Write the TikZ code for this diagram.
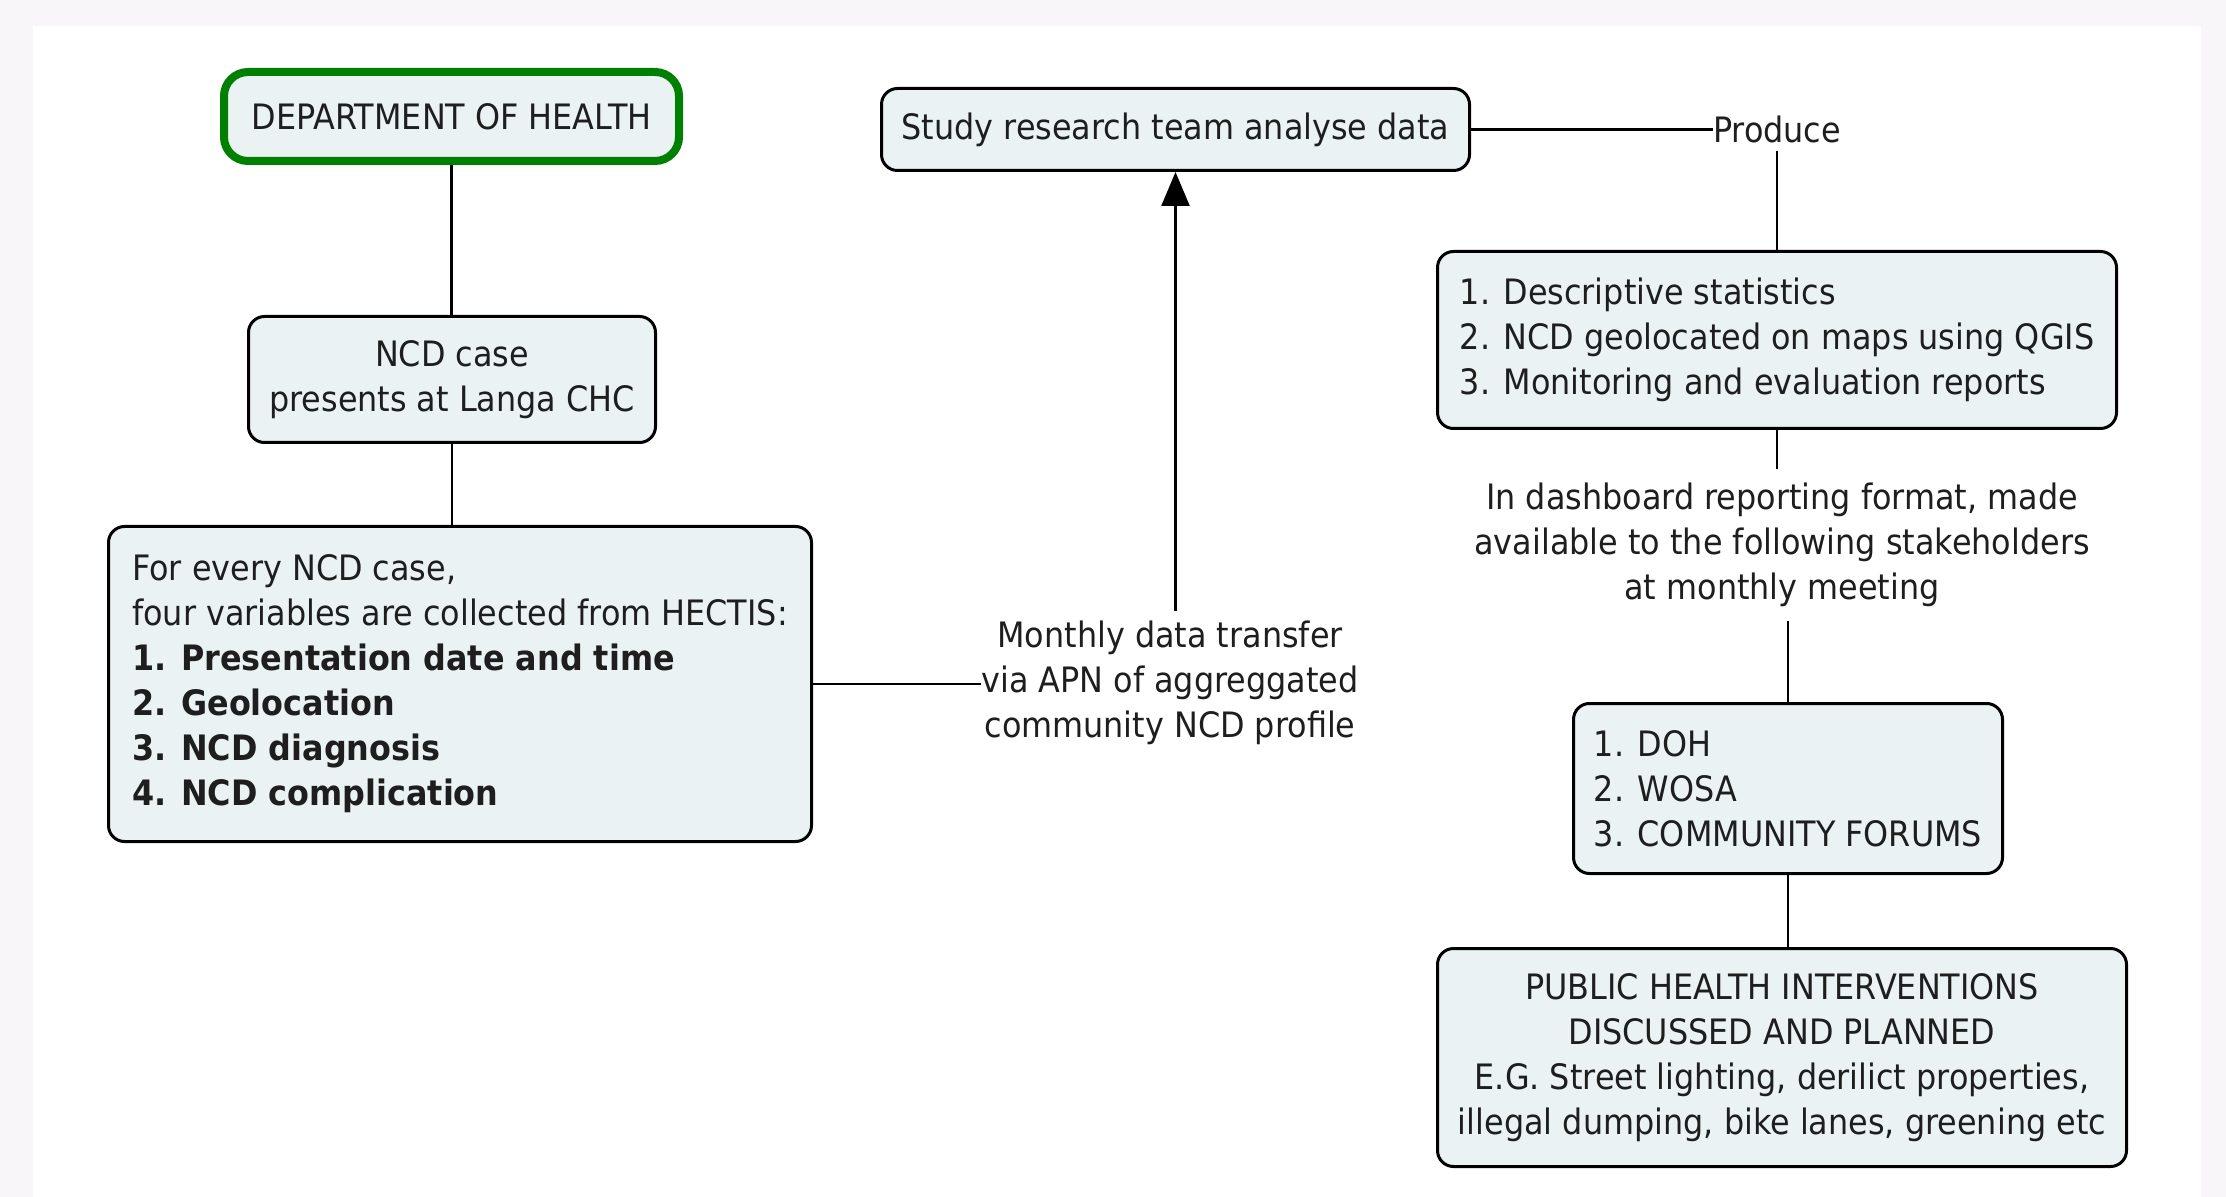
\documentclass[tikz,border=0pt]{standalone}
\usepackage{fontspec}
\setmainfont{DejaVu Sans}[FakeStretch=0.91]
\usetikzlibrary{arrows.meta}
\definecolor{boxfill}{HTML}{EAF2F4}
\definecolor{pagebg}{HTML}{F9F6FA}
\definecolor{dohgreen}{HTML}{008000}
\definecolor{txt}{HTML}{1E1E1E}
\begin{document}
\begin{tikzpicture}[x=0.5pt,y=-0.5pt,
  every node/.style={font=\fontsize{17.5}{22.5}\selectfont, text=txt},
  box/.style={draw=black, line width=1.5pt, fill=boxfill, rounded corners=8pt, inner sep=0pt},
  dohbox/.style={draw=dohgreen, line width=4pt, fill=boxfill, rounded corners=12pt, inner sep=0pt},
  conn/.style={line width=1.2pt, draw=black},
  lbl/.style={inner xsep=0pt, inner ysep=5pt, align=center}]
\fill[pagebg] (0,0) rectangle (2226,1197);
\fill[white] (33,26) rectangle (2201,1197);
\useasboundingbox (0,0) rectangle (2226,1197);

\node[dohbox, minimum width=227.5pt, minimum height=44.5pt] (doh) at (451.5,116.5) {DEPARTMENT OF HEALTH};
\node[box, minimum width=203.5pt, minimum height=63pt, align=center] (ncd) at (452,379.5) {NCD case\\presents at Langa CHC};
\node[box, minimum width=351.5pt, minimum height=157.5pt, align=left] (hectis) at (460,684) {For every NCD case,\\four variables are collected from HECTIS:\\\textbf{1. Presentation date and time}\\\textbf{2. Geolocation}\\\textbf{3. NCD diagnosis}\\\textbf{4. NCD complication}};
\node[box, minimum width=294pt, minimum height=41pt] (study) at (1175.5,129.5) {Study research team analyse data};
\node[box, minimum width=339.5pt, minimum height=88.5pt, align=left] (desc) at (1777,340) {1. Descriptive statistics\\2. NCD geolocated on maps using QGIS\\3. Monitoring and evaluation reports};
\node[box, minimum width=214.5pt, minimum height=85pt, align=left] (stake) at (1788,788.5) {1. DOH\\2. WOSA\\3. COMMUNITY FORUMS};
\node[box, minimum width=344.5pt, minimum height=109pt, align=center] (ph) at (1782,1057.5) {PUBLIC HEALTH INTERVENTIONS\\DISCUSSED AND PLANNED\\E.G. Street lighting, derilict properties,\\illegal dumping, bike lanes, greening etc};

\node[lbl] (monthly) at (1170,683) {Monthly data transfer\\via APN of aggreggated\\community NCD profile};
\node[lbl, inner ysep=4pt] (produce) at (1777,129) {Produce};
\node[lbl, inner ysep=7pt] (dash) at (1782,545) {In dashboard reporting format, made\\available to the following stakeholders\\at monthly meeting};

\draw[conn] (doh.south) -- (doh.south |- ncd.north);
\draw[conn] (ncd.south) -- (ncd.south |- hectis.north);
\draw[conn] (hectis.east) -- (hectis.east -| monthly.west);
\draw[conn, -{Triangle[length=17pt,width=14pt]}] (study.south |- monthly.north) -- (study.south);
\draw[conn] (study.east) -- (study.east -| produce.west);
\draw[conn] (produce.south) -- (produce.south |- desc.north);
\draw[conn] (desc.south) -- (desc.south |- dash.north);
\draw[conn] (dash.south -| stake.north) -- (stake.north);
\draw[conn] (stake.south) -- (stake.south |- ph.north);
\end{tikzpicture}
\end{document}
